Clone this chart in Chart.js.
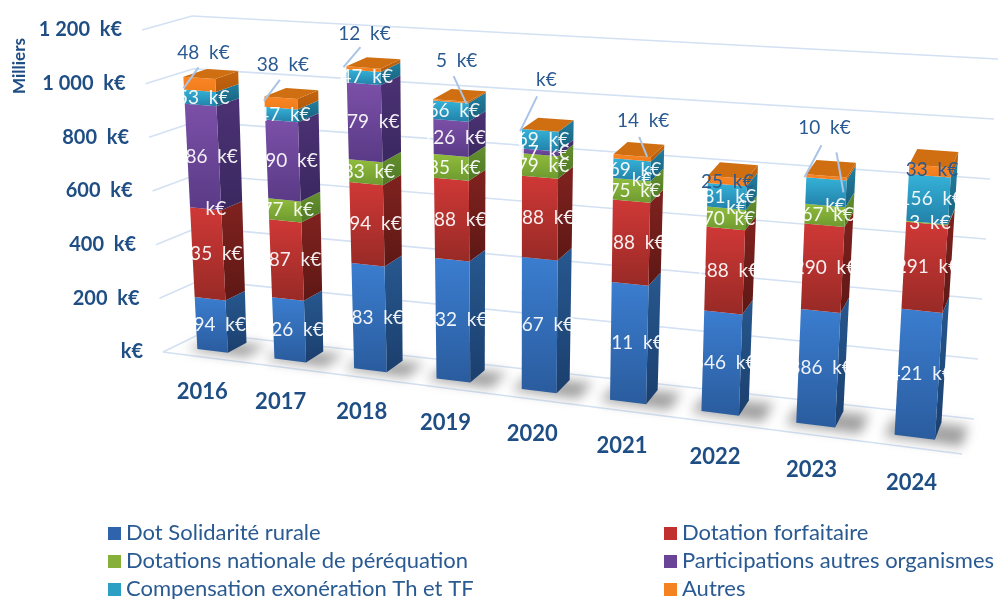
<!DOCTYPE html>
<html lang="fr">
<head>
<meta charset="utf-8">
<title>Dotations</title>
<script src="https://cdn.jsdelivr.net/npm/chart.js@4"></script>
<style>
    html, body { margin: 0; padding: 0; background: #fff; }
    canvas { display: block; }
</style>
</head>
<body>
<canvas id="dotationsChart" width="1000" height="599"></canvas>
<script>
// Values in k€
const years = ['2016', '2017', '2018', '2019', '2020', '2021', '2022', '2023', '2024'];
const solidariteRurale = [194, 226, 383, 432, 467, 411, 346, 386, 421];
const dotationForfaitaire = [335, 287, 294, 288, 288, 288, 288, 290, 291];
const perequation = [0, 77, 83, 85, 79, 75, 70, 67, 3];
const participations = [386, 290, 279, 126, 17, 0, 0, 0, 0];
const compensation = [53, 47, 47, 66, 69, 69, 81, 90, 156];
const autres = [48, 38, 12, 5, 0, 14, 25, 10, 33];
const yTickStep = 200;
const yMax = 1200;

// [front top, front bottom, side top, side bottom]
const seriesColors = [
    ['#3b7dcf', '#2a5c9e', '#27588f', '#1b3f6e'],
    ['#cf3836', '#982a26', '#80221f', '#5e1815'],
    ['#90bc3c', '#6e9a30', '#64902e', '#4f7826'],
    ['#7b50a8', '#5a3a86', '#4c3274', '#3a2860'],
    ['#35b2d8', '#2280a8', '#22809f', '#185f7c'],
    ['#fb8524', '#ef7c1c', '#c4650f', '#b35a0c']
];
const topFaceColor = '#cf6f12';
const blueText = '#2a5a92';
const darkBlueText = '#1f4e84';
const gridColor = '#d3e1f3';
const leaderColor = '#a9c4e4';

// Corners of the 3D box on screen: [across, up, depth]
const boxCorners = {
    '000': [163, 352], '100': [962, 454], '001': [202, 333], '101': [974, 419],
    '010': [142, 30], '110': [985, 90], '011': [192, 16], '111': [998, 59]
};
const perspective = 1.17;
const barFrontDepth = 0.3;
const barBackDepth = 0.8;
const labelShiftX = 3;

// Callouts of the Autres labels, relative to the middle of the front face
const calloutOffsets = [
    { label: [4, -31], leaders: [[[-1, -17], [-16, 4]]] },
    { label: [2, -38], leaders: [[[-1, -23], [-17, -2]]] },
    { label: [1, -35], leaders: [[[-3, -22], [-20, -2]]] },
    { label: [6, -40], leaders: [[[3, -25], [16, 3]]] },
    { label: [-1, -51], leaders: [[[-3, -34], [-20, 1]]] },
    { label: [11, -37], leaders: [[[7, -21], [15, -1]]] },
    { label: [0, 1], leaders: [] },
    { label: [-2, -49], leaders: [[[-5, -32], [-22, 0]], [[10, -25], [17, 15]]] },
    { label: [2, -1], leaders: [] }
];
// dataset-category of the labels that are not shown in the picture
const hiddenLabels = ['4-7', '3-8'];

function formatKe(value) {
    const rounded = Math.round(value);
    if (rounded === 0) return '   k€';
    return String(rounded).replace(/\B(?=(\d{3})+$)/g, ' ') + '  k€';
}

function project(u, v, w) {
    const g = u / (perspective + (1 - perspective) * u);
    const point = [0, 0];
    for (const key in boxCorners) {
        const weight = (key[0] === '1' ? g : 1 - g) * (key[1] === '1' ? v : 1 - v) * (key[2] === '1' ? w : 1 - w);
        point[0] += boxCorners[key][0] * weight;
        point[1] += boxCorners[key][1] * weight;
    }
    return point;
}

function fillFace(ctx, points, colorTop, colorBottom) {
    const ys = points.map(p => p[1]);
    const gradient = ctx.createLinearGradient(0, Math.min(...ys), 0, Math.max(...ys));
    gradient.addColorStop(0, colorTop);
    gradient.addColorStop(1, colorBottom);
    ctx.fillStyle = gradient;
    ctx.beginPath();
    points.forEach((p, i) => i ? ctx.lineTo(p[0], p[1]) : ctx.moveTo(p[0], p[1]));
    ctx.closePath();
    ctx.fill();
}

function strokeLine(ctx, a, b) {
    ctx.beginPath();
    ctx.moveTo(a[0], a[1]);
    ctx.lineTo(b[0], b[1]);
    ctx.stroke();
}

// The library lays the bars out on a flat plane, this plugin draws them in 3D
const bars3d = {
    id: 'bars3d',
    beforeDatasetsDraw(chart) {
        const ctx = chart.ctx;
        const area = chart.chartArea;
        const toU = x => (x - area.left) / (area.right - area.left);
        const toV = y => (area.bottom - y) / (area.bottom - area.top);
        ctx.save();

        // walls and floor
        ctx.strokeStyle = gridColor;
        ctx.lineWidth = 1.6;
        chart.scales.y.ticks.forEach(tick => {
            const v = tick.value / yMax;
            strokeLine(ctx, project(0, v, 0), project(0, v, 1));
            strokeLine(ctx, project(0, v, 1), project(1, v, 1));
        });
        strokeLine(ctx, project(0, 0, 0), project(1, 0, 0));

        // shadows on the floor
        const base = chart.getDatasetMeta(0).data;
        ctx.filter = 'blur(6px)';
        base.forEach(bar => {
            const uL = toU(bar.x - bar.width / 2) - 0.01;
            const uR = toU(bar.x + bar.width / 2) + 0.03;
            fillFace(ctx, [project(uL, 0, barFrontDepth - 0.08), project(uR, 0, barFrontDepth - 0.08),
                project(uR, 0, barBackDepth), project(uL, 0, barBackDepth)], '#bdbdbd', '#8e8e8e');
        });
        ctx.filter = 'none';

        // bar segments
        chart.data.datasets.forEach((dataset, d) => {
            const colors = seriesColors[d];
            chart.getDatasetMeta(d).data.forEach(bar => {
                const uL = toU(bar.x - bar.width / 2);
                const uR = toU(bar.x + bar.width / 2);
                const v0 = toV(bar.base);
                const v1 = toV(bar.y);
                fillFace(ctx, [project(uR, v1, barFrontDepth), project(uR, v1, barBackDepth),
                    project(uR, v0, barBackDepth), project(uR, v0, barFrontDepth)], colors[2], colors[3]);
                fillFace(ctx, [project(uL, v1, barFrontDepth), project(uR, v1, barFrontDepth),
                    project(uR, v0, barFrontDepth), project(uL, v0, barFrontDepth)], colors[0], colors[1]);
                if (d === chart.data.datasets.length - 1) {
                    fillFace(ctx, [project(uL, v1, barFrontDepth), project(uR, v1, barFrontDepth),
                        project(uR, v1, barBackDepth), project(uL, v1, barBackDepth)], topFaceColor, topFaceColor);
                }
            });
        });
        ctx.restore();
        return false;
    },
    afterDraw(chart) {
        const ctx = chart.ctx;
        const area = chart.chartArea;
        const toU = x => (x - area.left) / (area.right - area.left);
        const toV = y => (area.bottom - y) / (area.bottom - area.top);
        const datasets = chart.data.datasets;
        ctx.save();
        ctx.textBaseline = 'middle';

        // value labels
        ctx.textAlign = 'center';
        ctx.font = '19px Lato';
        datasets.forEach((dataset, d) => {
            const isAutres = d === datasets.length - 1;
            chart.getDatasetMeta(d).data.forEach((bar, i) => {
                if (hiddenLabels.includes(d + '-' + i)) return;
                const p = project(toU(bar.x), (toV(bar.base) + toV(bar.y)) / 2, barFrontDepth);
                if (isAutres) {
                    const callout = calloutOffsets[i];
                    ctx.strokeStyle = leaderColor;
                    ctx.lineWidth = 2;
                    callout.leaders.forEach(l => {
                        strokeLine(ctx, [p[0] + l[0][0], p[1] + l[0][1]], [p[0] + l[1][0], p[1] + l[1][1]]);
                    });
                    ctx.fillStyle = blueText;
                    ctx.fillText(formatKe(dataset.data[i]), p[0] + callout.label[0], p[1] + callout.label[1]);
                } else {
                    ctx.fillStyle = 'rgba(255, 255, 255, 0.92)';
                    ctx.fillText(formatKe(dataset.data[i]), p[0] + labelShiftX, p[1]);
                }
            });
        });

        // axis labels
        ctx.fillStyle = darkBlueText;
        ctx.font = 'bold 20px Lato';
        ctx.textAlign = 'right';
        chart.scales.y.ticks.forEach(tick => {
            const p = project(0, tick.value / yMax, 0);
            ctx.fillText(tick.label, p[0] - 20, p[1]);
        });
        ctx.font = 'bold 22px Lato';
        ctx.textAlign = 'center';
        chart.data.labels.forEach((year, i) => {
            const p = project(toU(chart.scales.x.getPixelForValue(i)), 0, 0);
            ctx.fillText(year, p[0] + 1, p[1] + 35);
        });

        ctx.save();
        ctx.translate(20, 66);
        ctx.rotate(-Math.PI / 2);
        ctx.font = 'bold 17px Lato';
        ctx.fillText('Milliers', 0, 0);
        ctx.restore();

        // legend, two columns
        ctx.textAlign = 'left';
        ctx.font = '22px Lato';
        datasets.forEach((dataset, d) => {
            const x = d % 2 ? 664 : 108;
            const y = 533 + Math.floor(d / 2) * 28;
            ctx.fillStyle = dataset.backgroundColor;
            ctx.fillRect(x, y - 6, 13, 13);
            ctx.fillStyle = blueText;
            ctx.fillText(dataset.label, x + 18, y);
        });
        ctx.restore();
    }
};

function buildDataset(label, data, color) {
    return { label: label, data: data, backgroundColor: color };
}

document.addEventListener('DOMContentLoaded', function() {
    const chartCtx = document.getElementById('dotationsChart').getContext('2d');
    new Chart(chartCtx, {
        type: 'bar',
        data: {
            labels: years,
            datasets: [
                buildDataset('Dot Solidarité rurale', solidariteRurale, '#2f64ad'),
                buildDataset('Dotation forfaitaire', dotationForfaitaire, '#c0302e'),
                buildDataset('Dotations nationale de péréquation', perequation, '#86b03a'),
                buildDataset('Participations autres organismes', participations, '#6a4496'),
                buildDataset('Compensation exonération Th et TF', compensation, '#2ba0c4'),
                buildDataset('Autres', autres, '#f58220')
            ]
        },
        plugins: [bars3d],
        options: {
            responsive: false,
            animation: false,
            layout: { padding: { left: 160, right: 40, top: 30, bottom: 150 } },
            datasets: { bar: { categoryPercentage: 0.8, barPercentage: 0.5 } },
            scales: {
                x: { stacked: true, display: false },
                y: {
                    stacked: true,
                    display: false,
                    min: 0,
                    max: yMax,
                    ticks: { stepSize: yTickStep, callback: value => formatKe(value) }
                }
            },
            plugins: {
                legend: { display: false },
                tooltip: { enabled: false }
            }
        }
    });
});
</script>
</body>
</html>
